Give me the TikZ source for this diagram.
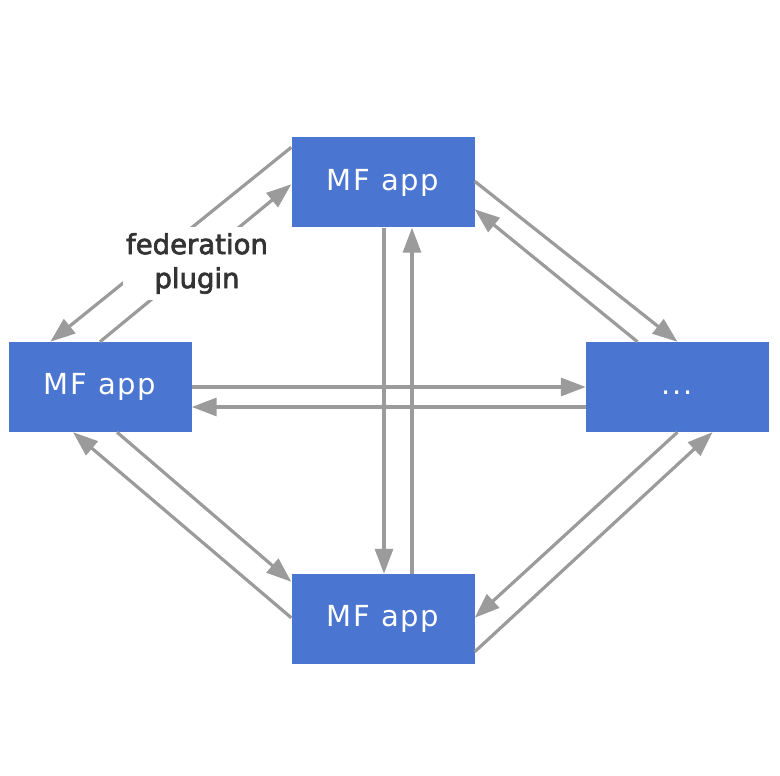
\documentclass[tikz,border=0pt]{standalone}
\usepackage{fontspec}
\setmainfont{DejaVu Sans}
\newfontfamily\appfont[LetterSpace=6]{DejaVu Sans}
\newfontfamily\lblfont[FakeBold=2.5]{DejaVu Sans}
\usetikzlibrary{arrows.meta}
\definecolor{boxblue}{RGB}{74,117,208}
\definecolor{arrgray}{RGB}{155,155,155}
\definecolor{lbltext}{RGB}{51,51,51}
\tikzset{
  appbox/.style={fill=boxblue, draw=none, minimum width=183pt, minimum height=90pt, inner sep=0pt,
    text=white, font=\appfont\fontsize{29}{34}\selectfont},
  arr/.style={draw=arrgray, line width=3.2pt, -{Triangle[length=25pt,width=18pt]}},
  lbl/.style={fill=white, text=lbltext, align=center, inner xsep=3pt, inner ysep=6pt,
    font=\lblfont\fontsize{27.5}{34}\selectfont}
}
\begin{document}
\begin{tikzpicture}[x=1pt,y=1pt]
\useasboundingbox (0,0) rectangle (780,776);
\node[appbox] (top) at (383,593.5) {MF app};
\node[appbox] (left) at (100,389) {MF app};
\node[appbox] (right) at (677.5,389) {\vphantom{MF app}...};
\node[appbox] (bottom) at (383,157) {MF app};
% top-left pair
\draw[arr] ([yshift=-10pt]top.north west) -- ([xshift=42pt]left.north west);
\draw[arr] (left.north) -- ([yshift=-47pt]top.north west);
% top-right pair
\draw[arr] ([yshift=-44pt]top.north east) -- (right.north);
\draw[arr] ([xshift=-40pt]right.north) -- ([yshift=-72pt]top.north east);
% bottom-right pair
\draw[arr] (right.south) -- ([yshift=-44pt]bottom.north east);
\draw[arr] ([yshift=-78pt]bottom.north east) -- ([xshift=35pt]right.south);
% bottom-left pair
\draw[arr] ([yshift=-44pt]bottom.north west) -- ([xshift=-27pt]left.south);
\draw[arr] ([xshift=17pt]left.south) -- ([yshift=-8pt]bottom.north west);
% horizontal pair
\draw[arr] (left.east) -- (right.west);
\draw[arr] ([yshift=-20pt]right.west) -- ([yshift=-20pt]left.east);
% vertical pair
\draw[arr] ([xshift=1pt]top.south) -- ([xshift=1pt]bottom.north);
\draw[arr] ([xshift=29pt]bottom.north) -- ([xshift=29pt]top.south);
% label
\node[lbl] (fed) at (197,512.5) {federation\\plugin};
\end{tikzpicture}
\end{document}
